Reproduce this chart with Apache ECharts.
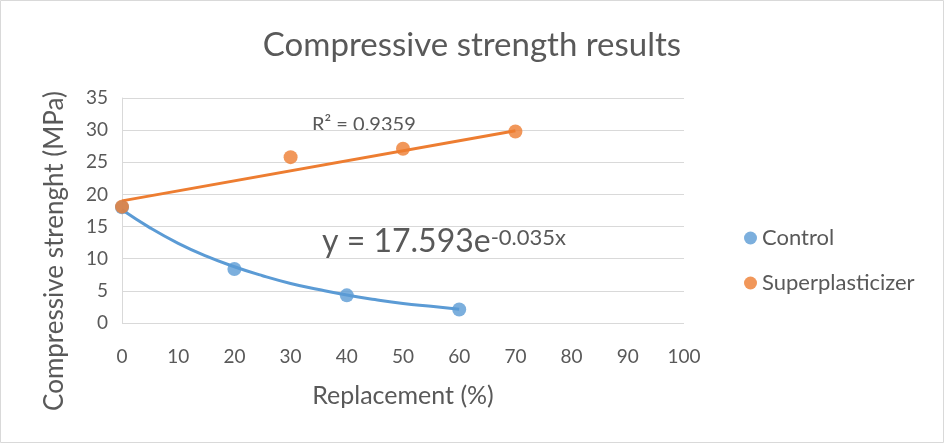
<!DOCTYPE html>
<html>
<head>
<meta charset="utf-8">
<script src="https://cdn.jsdelivr.net/npm/echarts@6/dist/echarts.min.js"></script>
<style>
	html, body { margin: 0; padding: 0; background: #fff; }
	#chart { width: 944px; height: 443px; }
</style>
</head>
<body>
<div id="chart"></div>
<script>
	// measured points
	var controlPoints = [ [ 0, 18.0 ], [ 20, 8.4 ], [ 40, 4.3 ], [ 60, 2.1 ] ];
	var superPoints = [ [ 0, 18.1 ], [ 30, 25.8 ], [ 50, 27.1 ], [ 70, 29.8 ] ];
	// trendlines
	var controlTrend = [ [ 0, 17.6 ], [ 5, 14.8 ], [ 10, 12.4 ], [ 15, 10.4 ], [ 20, 8.75 ], [ 25, 7.35 ],
			[ 30, 6.15 ], [ 35, 5.2 ], [ 40, 4.35 ], [ 45, 3.65 ], [ 50, 3.05 ], [ 55, 2.6 ], [ 60, 2.15 ] ];
	var superTrend = [ [ 0, 19.0 ], [ 70, 29.9 ] ];
	var seriesNames = [ 'Control', 'Superplasticizer' ];
	var colors = [ '#5B9BD5', '#ED7D31' ];

	var font = 'Lato';
	var textColor = '#595959';

	var chart = echarts.init(document.getElementById('chart'));
	var option = {
		animation : false,
		title : {
			text : 'Compressive strength results',
			left : 'center',
			top : 24,
			textStyle : {
				fontFamily : font,
				fontWeight : 'normal',
				fontSize : 33,
				color : textColor
			}
		},
		legend : {
			data : seriesNames,
			orient : 'vertical',
			left : 739,
			top : 222,
			itemGap : 23,
			itemWidth : 13,
			itemHeight : 13,
			icon : 'circle',
			textStyle : {
				fontFamily : font,
				fontSize : 22,
				color : textColor
			}
		},
		grid : {
			left : 122,
			right : 260,
			top : 98,
			bottom : 120
		},
		xAxis : {
			type : 'value',
			min : 0,
			max : 100,
			interval : 10,
			name : 'Replacement (%)',
			nameLocation : 'middle',
			nameGap : 60,
			nameTextStyle : {
				fontFamily : font,
				fontSize : 25,
				color : textColor
			},
			axisLine : {
				show : false
			},
			axisTick : {
				show : false
			},
			splitLine : {
				show : false
			},
			axisLabel : {
				fontFamily : font,
				fontSize : 19,
				color : textColor,
				margin : 24
			}
		},
		yAxis : {
			type : 'value',
			min : 0,
			max : 35,
			interval : 5,
			axisLine : {
				show : true,
				lineStyle : {
					color : '#d9d9d9',
					width : 1
				}
			},
			axisTick : {
				show : false
			},
			splitLine : {
				lineStyle : {
					color : '#d9d9d9',
					width : 1
				}
			},
			axisLabel : {
				fontFamily : font,
				fontSize : 19,
				color : textColor,
				margin : 14
			}
		},
		series : [ {
			name : 'Control trend',
			type : 'line',
			smooth : true,
			showSymbol : false,
			data : controlTrend,
			lineStyle : {
				color : colors[0],
				width : 3
			},
			z : 2
		}, {
			name : 'Superplasticizer trend',
			type : 'line',
			showSymbol : false,
			data : superTrend,
			lineStyle : {
				color : colors[1],
				width : 3
			},
			z : 2
		}, {
			name : seriesNames[0],
			type : 'scatter',
			symbolSize : 14,
			data : controlPoints,
			itemStyle : {
				color : colors[0]
			},
			z : 3
		}, {
			name : seriesNames[1],
			type : 'scatter',
			symbolSize : 14,
			data : superPoints,
			itemStyle : {
				color : colors[1]
			},
			z : 4
		} ],
		graphic : [ {
			type : 'rect',
			shape : {
				x : 0.5,
				y : 0.5,
				width : 943,
				height : 442
			},
			style : {
				fill : null,
				stroke : '#d9d9d9',
				lineWidth : 1
			},
			silent : true
		}, {
			// y axis title sits lower than the plot centre, like the original
			type : 'text',
			x : 55,
			y : 251,
			rotation : Math.PI / 2,
			style : {
				text : 'Compressive strenght (MPa)',
				fontFamily : font,
				fontSize : 26,
				fill : textColor,
				align : 'center',
				verticalAlign : 'middle'
			}
		}, {
			type : 'text',
			left : 312,
			top : 115,
			style : {
				text : 'R² = 0.9359',
				fontFamily : font,
				fontSize : 20,
				fill : textColor
			}
		}, {
			type : 'text',
			left : 322,
			top : 226,
			style : {
				text : '{b|y = 17.593e}{s|-0.035x}',
				fill : textColor,
				rich : {
					b : {
						fontFamily : font,
						fontSize : 32,
						color : textColor,
						verticalAlign : 'bottom',
						lineHeight : 40
					},
					s : {
						fontFamily : font,
						fontSize : 22,
						color : textColor,
						verticalAlign : 'middle',
						lineHeight : 40
					}
				}
			}
		} ]
	};
	chart.setOption(option);
</script>
</body>
</html>
